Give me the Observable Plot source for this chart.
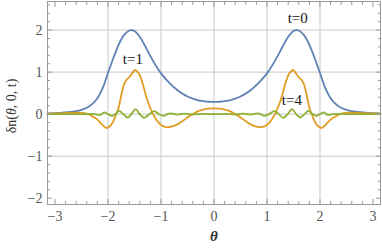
<!DOCTYPE html>
<html><head><meta charset="utf-8">
<script src="https://cdn.jsdelivr.net/npm/d3@7"></script>
<script src="https://cdn.jsdelivr.net/npm/@observablehq/plot@0.6"></script>
<style>body{margin:0;background:#fff} svg{font-family:"Liberation Serif",serif}</style>
</head><body><div id="chart"></div>
<script>
// t=0 (blue)
const thetaT0 = [-3.14,-2.9,-2.75,-2.6,-2.5,-2.4,-2.3,-2.2,-2.1,-2.0,-1.9,-1.8,-1.7,-1.6,-1.56,-1.5,-1.4,-1.3,-1.2,-1.1,-1.0,-0.9,-0.8,-0.7,-0.6,-0.5,-0.4,-0.3,-0.2,-0.1,0,
  0.1,0.2,0.3,0.4,0.5,0.6,0.7,0.8,0.9,1.0,1.1,1.2,1.3,1.4,1.5,1.56,1.6,1.7,1.8,1.9,2.0,2.1,2.2,2.3,2.4,2.5,2.6,2.75,2.9,3.14];
const valT0 = [0.02,0.03,0.045,0.07,0.10,0.15,0.24,0.38,0.62,0.98,1.33,1.65,1.88,1.99,2.0,1.98,1.84,1.62,1.38,1.16,0.97,0.82,0.69,0.58,0.49,0.42,0.37,0.33,0.31,0.295,0.29,
  0.295,0.31,0.33,0.37,0.42,0.49,0.58,0.69,0.82,0.97,1.16,1.38,1.62,1.84,1.98,2.0,1.99,1.88,1.65,1.33,0.98,0.62,0.38,0.24,0.15,0.10,0.07,0.045,0.03,0.02];
// t=1 (orange)
const thetaT1 = [-3.14,-2.9,-2.7,-2.5,-2.4,-2.3,-2.2,-2.1,-2.03,-1.95,-1.9,-1.85,-1.8,-1.75,-1.7,-1.65,-1.59,-1.53,-1.49,-1.44,-1.4,-1.34,-1.28,-1.22,-1.16,-1.09,-1.0,-0.9,-0.8,-0.7,-0.6,-0.5,-0.4,-0.3,-0.2,-0.1,0,
  0.1,0.2,0.3,0.4,0.5,0.6,0.7,0.8,0.9,1.0,1.09,1.16,1.22,1.28,1.34,1.4,1.44,1.49,1.53,1.59,1.65,1.7,1.75,1.8,1.85,1.9,1.95,2.03,2.1,2.2,2.3,2.4,2.5,2.7,2.9,3.14];
const valT1 = [0.01,0.02,0.03,0.03,0.01,-0.05,-0.13,-0.26,-0.33,-0.27,-0.17,-0.02,0.15,0.45,0.70,0.82,0.89,1.0,1.05,1.0,0.92,0.70,0.42,0.2,0.03,-0.13,-0.26,-0.31,-0.30,-0.25,-0.17,-0.08,0.0,0.07,0.11,0.13,0.135,
  0.13,0.11,0.07,0.0,-0.08,-0.17,-0.25,-0.30,-0.31,-0.26,-0.13,0.03,0.2,0.42,0.70,0.92,1.0,1.05,1.0,0.89,0.82,0.70,0.45,0.15,-0.02,-0.17,-0.27,-0.33,-0.26,-0.13,-0.05,0.01,0.03,0.03,0.02,0.01];
// t=4 (green)
const thetaT4 = [-3.14,-2.6,-2.4,-2.25,-2.15,-2.07,-2.0,-1.94,-1.86,-1.79,-1.71,-1.63,-1.56,-1.48,-1.40,-1.32,-1.22,-1.13,-1.04,-0.95,-0.88,-0.82,-0.7,-0.55,-0.4,-0.2,0,
  0.2,0.4,0.55,0.7,0.82,0.88,0.95,1.04,1.14,1.22,1.31,1.39,1.47,1.55,1.63,1.71,1.78,1.86,1.94,2.0,2.07,2.15,2.25,2.4,2.6,3.14];
const valT4 = [0,0,0.005,0,-0.02,0.04,0,-0.04,0,0.08,0,-0.08,0,0.12,0,-0.09,0,0.07,0,-0.04,0,0.02,-0.01,0.01,-0.005,0.005,0,
  0.005,-0.005,0.01,-0.01,0.02,0,-0.04,0,0.07,0,-0.09,0,0.12,0,-0.08,0,0.08,0,-0.04,0,0.04,-0.02,0,0.005,0,0];

const xTicks = [-3,-2,-1,0,1,2,3];
const yTicks = [-2,-1,0,1,2];
const xGrid = [-2,-1,0,1,2];
const yGrid = [-1,0,1,2];
const curveLabels = ["t=0","t=1","t=4"];
const curveLabelX = [1.58,-1.53,1.47];
const curveLabelY = [2.28,1.31,0.34];

const minorX = d3.range(-3.0, 3.01, 0.2).map(v => +v.toFixed(1)).filter(v => !Number.isInteger(v));
const minorY = d3.range(-2.0, 2.61, 0.2).map(v => +v.toFixed(1)).filter(v => !Number.isInteger(v));

const tickStroke = "#999";
const noText = () => "";

const chart = Plot.plot({
  width: 382, height: 250,
  marginLeft: 47, marginRight: 2, marginTop: 1, marginBottom: 46,
  x: {domain: [-Math.PI, Math.PI]},
  y: {domain: [-2.15, 2.68]},
  style: {fontFamily: "Liberation Serif, serif", fontSize: "14px", background: "#fff"},
  marks: [
    Plot.gridX(xGrid, {stroke: "#c8c8c8", strokeOpacity: 1}),
    Plot.gridY(yGrid, {stroke: "#c8c8c8", strokeOpacity: 1}),
    Plot.line(valT0, {x: thetaT0, y: valT0, stroke: "#5E81B5", strokeWidth: 1.8, curve: "catmull-rom"}),
    Plot.line(valT1, {x: thetaT1, y: valT1, stroke: "#E19C24", strokeWidth: 1.8, curve: "catmull-rom"}),
    Plot.line(valT4, {x: thetaT4, y: valT4, stroke: "#8FB032", strokeWidth: 1.8, curve: "monotone-x"}),
    Plot.frame({stroke: tickStroke}),
    // labels
    Plot.axisX(xTicks, {anchor: "bottom", tickSize: 0, tickPadding: 7, fill: "#555", fontSize: 14, tickFormat: d => d < 0 ? "\u2212" + Math.abs(d) : String(d)}),
    Plot.axisY(yTicks, {anchor: "left", tickSize: 0, tickPadding: 5, fill: "#555", fontSize: 14, tickFormat: d => d < 0 ? "\u2212" + Math.abs(d) : String(d)}),
    // inward ticks
    Plot.axisX(xTicks, {anchor: "bottom", tickSize: -5, stroke: tickStroke, tickFormat: noText, label: null}),
    Plot.axisX(minorX, {anchor: "bottom", tickSize: -3, stroke: tickStroke, tickFormat: noText, label: null}),
    Plot.axisX(xTicks, {anchor: "top", tickSize: -5, stroke: tickStroke, tickFormat: noText, label: null}),
    Plot.axisX(minorX, {anchor: "top", tickSize: -3, stroke: tickStroke, tickFormat: noText, label: null}),
    Plot.axisY(yTicks, {anchor: "left", tickSize: -5, stroke: tickStroke, tickFormat: noText, label: null}),
    Plot.axisY(minorY, {anchor: "left", tickSize: -3, stroke: tickStroke, tickFormat: noText, label: null}),
    Plot.axisY(yTicks, {anchor: "right", tickSize: -5, stroke: tickStroke, tickFormat: noText, label: null}),
    Plot.axisY(minorY, {anchor: "right", tickSize: -3, stroke: tickStroke, tickFormat: noText, label: null}),
    Plot.text(curveLabels, {x: curveLabelX, y: curveLabelY, text: d => d, fontSize: 15, fill: "#111"}),
    Plot.text(["\u03b8"], {frameAnchor: "bottom", dy: 36, fontStyle: "italic", fontWeight: "bold", fontSize: 15, fill: "#333"})
  ]
});
document.getElementById("chart").appendChild(chart);

const svg = d3.select(chart);
const yl = svg.append("text")
  .attr("transform", "translate(13,106) rotate(-90)")
  .attr("text-anchor", "middle")
  .attr("dominant-baseline", "middle")
  .attr("font-size", 14)
  .attr("fill", "#333")
  .attr("font-family", "Liberation Serif, serif");
yl.append("tspan").text("\u03b4n(");
yl.append("tspan").attr("font-style", "italic").text("\u03b8");
yl.append("tspan").text(", 0, t)");
</script>
</body></html>
